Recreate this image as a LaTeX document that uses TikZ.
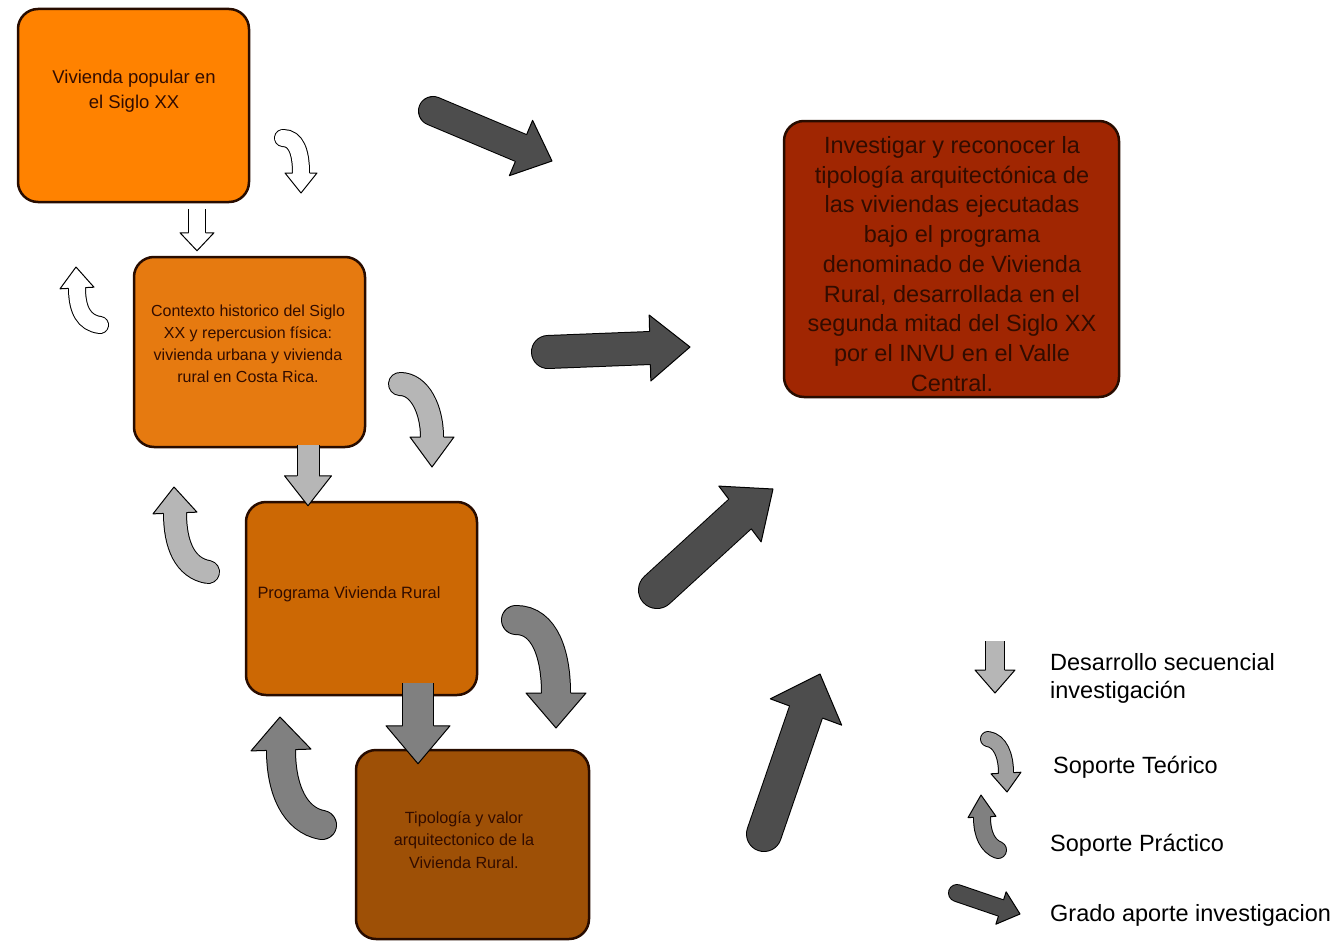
\documentclass[tikz,border=0pt]{standalone}
\usepackage{fontspec}
\setmainfont{Liberation Sans}
\usetikzlibrary{calc}

\definecolor{naranja1}{RGB}{255,130,0}
\definecolor{naranja2}{RGB}{230,122,16}
\definecolor{naranja3}{RGB}{204,104,4}
\definecolor{naranja4}{RGB}{158,80,6}
\definecolor{rojo}{RGB}{160,38,2}
\definecolor{borde}{RGB}{40,12,0}
\definecolor{letra}{RGB}{50,12,0}
\definecolor{gris1}{RGB}{182,182,182}
\definecolor{gris2}{RGB}{128,128,128}
\definecolor{gris3}{RGB}{77,77,77}

\tikzset{
  caja/.style={draw=borde, line width=2.5pt, rounded corners=20pt, inner sep=0pt},
  texto/.style={text=letra, align=center, inner sep=0pt},
  leyenda/.style={anchor=west, align=left, inner sep=0pt, font=\fontsize{23.5}{28}\selectfont},
}

% block arrow: fill, half shaft, half head, tail cap, tail, path, head base, tip
\newcommand{\flecha}[8]{%
  \draw[line width=2*#2+2pt, black, line cap=#4] #5 #6 #7;
  \draw[line width=2*#2, #1, line cap=#4] #5 #6 #7;
  \fill[#1] ($#7!#3!90:#8$) -- #8 -- ($#7!#3!-90:#8$) -- cycle;
  \draw[line width=1pt, black, line join=round] ($#7!#2+0.5pt!90:#8$) -- ($#7!#3!90:#8$) -- #8 -- ($#7!#3!-90:#8$) -- ($#7!#2+0.5pt!-90:#8$);
}

\begin{document}
\begin{tikzpicture}[x=1pt,y=1pt,yscale=-1]
\useasboundingbox (0,0) rectangle (1344,942);

% Cajas
\node[caja, fill=naranja1, minimum width=231pt, minimum height=193pt] (b1) at (133.5,105.5) {};
\node[caja, fill=naranja2, minimum width=231pt, minimum height=190pt] (b2) at (249.5,352) {};
\node[caja, fill=naranja3, minimum width=231pt, minimum height=193pt] (b3) at (361.5,598.5) {};
\node[caja, fill=naranja4, minimum width=233pt, minimum height=189pt] (b4) at (472.5,844.5) {};
\node[caja, fill=rojo, minimum width=335pt, minimum height=276pt] (meta) at (951.5,259) {};

% Textos
\node[texto, font=\fontsize{18.5}{25}\selectfont] (t1) at (134,91) {Vivienda popular en\\el Siglo XX};
\node[texto, font=\fontsize{16}{22}\selectfont] (t2) at (248,344) {Contexto historico del Siglo\\XX y repercusion física:\\vivienda urbana y vivienda\\rural en Costa Rica.};
\node[texto, font=\fontsize{16.4}{22}\selectfont] (t3) at (349,594) {Programa Vivienda Rural};
\node[texto, font=\fontsize{16.2}{22.5}\selectfont] (t4) at (464,840) {Tipología y valor\\arquitectonico de la\\Vivienda Rural.};
\node[texto, font=\fontsize{23.5}{29.75}\selectfont] (tm) at (952,264) {Investigar y reconocer la\\tipología arquitectónica de\\las viviendas ejecutadas\\bajo el programa\\denominado de Vivienda\\Rural, desarrollada en el\\segunda mitad del Siglo XX\\por el INVU en el Valle\\Central.};

% Desarrollo secuencial
\coordinate (s1a) at ([xshift=63.5pt,yshift=6pt]b1.south);
\coordinate (s1b) at ([xshift=-52.5pt,yshift=-23pt]b2.north);
\coordinate (s1c) at ([xshift=-52.5pt,yshift=-5pt]b2.north);
\coordinate (s2a) at ([xshift=58.5pt,yshift=-3pt]b2.south);
\coordinate (s2b) at ([xshift=-53.5pt,yshift=-25pt]b3.north);
\coordinate (s2c) at ([xshift=-53.5pt,yshift=5pt]b3.north);
\coordinate (s3a) at ([xshift=56.5pt,yshift=-13pt]b3.south);
\coordinate (s3b) at ([xshift=-54.5pt,yshift=-23pt]b4.north);
\coordinate (s3c) at ([xshift=-54.5pt,yshift=15pt]b4.north);
\flecha{white}{8pt}{17pt}{butt}{(s1a)}{--}{(s1b)}{(s1c)}
\flecha{gris1}{10.5pt}{23.5pt}{butt}{(s2a)}{--}{(s2b)}{(s2c)}
\flecha{gris2}{15pt}{32pt}{butt}{(s3a)}{--}{(s3b)}{(s3c)}

% Soporte Teorico
\flecha{white}{8pt}{16pt}{round}{(283,138)}{.. controls (296,138) and (301,152) ..}{(301,173)}{(301,193)}
\flecha{gris1}{11pt}{22pt}{round}{(400,384)}{.. controls (420,384) and (432,410) ..}{(432,437)}{(432,467)}
\flecha{gris2}{14pt}{30pt}{round}{(516,620)}{.. controls (545,620) and (556,655) ..}{(556,693)}{(556,728)}

% Soporte Practico
\flecha{white}{8pt}{17pt}{round}{(100,325)}{.. controls (84,323) and (77,310) ..}{(77,288)}{(76,267)}
\flecha{gris1}{11pt}{22pt}{round}{(208,572)}{.. controls (185,568) and (175,545) ..}{(175,513)}{(174,487)}
\flecha{gris2}{14pt}{30pt}{round}{(322,825)}{.. controls (295,820) and (281,790) ..}{(281,750)}{(280,717)}

% Grado aporte
\flecha{gris3}{14pt}{30pt}{round}{(433,111)}{--}{(521,148)}{(552,161)}
\flecha{gris3}{16pt}{33pt}{round}{(548,352)}{--}{(650,348)}{(690,347)}
\flecha{gris3}{18pt}{35pt}{round}{(657,590)}{--}{(740,514)}{(773,489)}
\flecha{gris3}{17pt}{38pt}{round}{(764,834)}{--}{(806,712)}{(820,674)}

% Leyenda
\flecha{gris1}{9pt}{20pt}{butt}{(995,641)}{--}{(995,670)}{(995,693)}
\flecha{gris1!88!black}{7pt}{15pt}{round}{(988,739)}{.. controls (1000,741) and (1006,755) ..}{(1006,773)}{(1007,792)}
\flecha{gris2}{8pt}{14pt}{round}{(998,850)}{.. controls (988,846) and (982,835) ..}{(982,817)}{(981,795)}
\flecha{gris3}{8pt}{17pt}{round}{(957,893)}{--}{(1001,908)}{(1020,914)}

\node[leyenda] (l1) at (1050,678) {Desarrollo secuencial\\investigación};
\node[leyenda] (l2) at (1053,767) {Soporte Teórico};
\node[leyenda] (l3) at (1050,845) {Soporte Práctico};
\node[leyenda] (l4) at (1050,915) {Grado aporte investigacion};
\end{tikzpicture}
\end{document}
